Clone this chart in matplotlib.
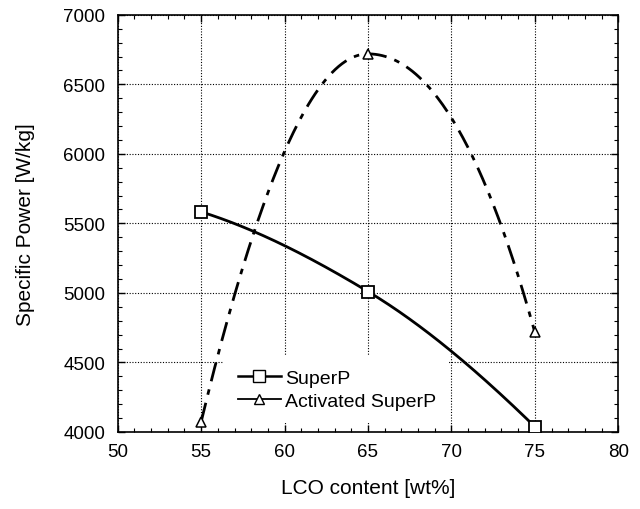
import numpy as np
import matplotlib
matplotlib.use("Agg")
import matplotlib.pyplot as plt
from matplotlib.ticker import MultipleLocator

# data
lco = [55, 65, 75]
superp = [5583, 5010, 4038]
activated = [4074, 6719, 4717]


def pchip(x, y, n=200):
    """Shape preserving cubic curve through the points (for drawing the line)."""
    x = np.asarray(x, float)
    y = np.asarray(y, float)
    h = np.diff(x)
    d = np.diff(y) / h
    m = np.zeros_like(y)
    for i in range(1, len(x) - 1):
        if d[i - 1] * d[i] > 0:
            w1 = 2 * h[i] + h[i - 1]
            w2 = h[i] + 2 * h[i - 1]
            m[i] = (w1 + w2) / (w1 / d[i - 1] + w2 / d[i])
    # end slopes
    m[0] = ((2 * h[0] + h[1]) * d[0] - h[0] * d[1]) / (h[0] + h[1])
    if np.sign(m[0]) != np.sign(d[0]):
        m[0] = 0
    elif np.sign(d[0]) != np.sign(d[1]) and abs(m[0]) > 3 * abs(d[0]):
        m[0] = 3 * d[0]
    m[-1] = ((2 * h[-1] + h[-2]) * d[-1] - h[-1] * d[-2]) / (h[-1] + h[-2])
    if np.sign(m[-1]) != np.sign(d[-1]):
        m[-1] = 0
    elif np.sign(d[-1]) != np.sign(d[-2]) and abs(m[-1]) > 3 * abs(d[-1]):
        m[-1] = 3 * d[-1]
    xs = np.linspace(x[0], x[-1], n)
    idx = np.clip(np.searchsorted(x, xs) - 1, 0, len(x) - 2)
    t = (xs - x[idx]) / h[idx]
    h00 = 2 * t**3 - 3 * t**2 + 1
    h10 = t**3 - 2 * t**2 + t
    h01 = -2 * t**3 + 3 * t**2
    h11 = t**3 - t**2
    ys = h00 * y[idx] + h10 * h[idx] * m[idx] + h01 * y[idx + 1] + h11 * h[idx] * m[idx + 1]
    return xs, ys


plt.rcParams['font.family'] = ['Liberation Sans', 'DejaVu Sans']

fig = plt.figure(figsize=(6.4, 5.1), dpi=100)
ax = fig.add_axes([0.184, 0.151, 0.782, 0.818])

dashdot = (0, (7, 3, 2, 3))

xs, ys = pchip(lco, superp)
ax.plot(xs, ys, color='black', lw=2, zorder=3)
ax.plot(lco, superp, 's', ms=9, mfc='white', mec='black', mew=1.3, zorder=4)

xs, ys = pchip(lco, activated)
ax.plot(xs, ys, color='black', lw=2, linestyle=dashdot, zorder=3)
ax.plot(lco, activated, '^', ms=7.5, mfc='white', mec='black', mew=1.1, zorder=4)

# legend handles
ax.plot([], [], '-', color='black', lw=1.8, marker='s', ms=8, mfc='white',
        mec='black', label='SuperP')
ax.plot([], [], '-', color='black', lw=1.3, marker='^', ms=6.5, mfc='white',
        mec='black', label='Activated SuperP')
leg = ax.legend(loc='lower left', bbox_to_anchor=(0.213, 0.021), frameon=True,
                fontsize=14, handlelength=2.2, handletextpad=0.2,
                labelspacing=0.25, borderpad=0.7, borderaxespad=0)
leg.get_frame().set_facecolor('white')
leg.get_frame().set_edgecolor('none')
leg.get_frame().set_alpha(1)
leg.set_zorder(5)

ax.set_xlim(50, 80)
ax.set_ylim(4000, 7000)
ax.xaxis.set_major_locator(MultipleLocator(5))
ax.xaxis.set_minor_locator(MultipleLocator(1))
ax.yaxis.set_major_locator(MultipleLocator(500))
ax.yaxis.set_minor_locator(MultipleLocator(100))
ax.tick_params(which='both', direction='in', top=True, right=True, labelsize=13.5)
ax.tick_params(which='major', length=5, width=1)
ax.tick_params(which='minor', length=3, width=0.8)
ax.tick_params(axis='x', pad=8)
ax.tick_params(axis='y', pad=9)
ax.grid(True, which='major', color='black', lw=0.8, linestyle=(0, (1, 1.5)))
for s in ax.spines.values():
    s.set_linewidth(1.2)

ax.set_xlabel('LCO content [wt%]', fontsize=15, labelpad=13)
ax.set_ylabel('Specific Power [W/kg]', fontsize=15, labelpad=20)

fig.savefig('out.png', dpi=100)
